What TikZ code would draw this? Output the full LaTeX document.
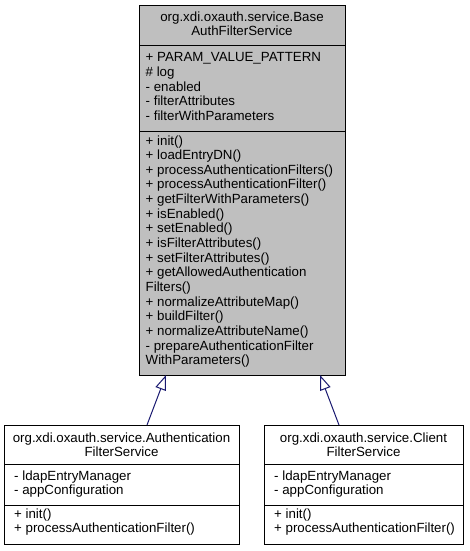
\documentclass[tikz,border=0pt]{standalone}
\usepackage{fontspec}
\setmainfont{Liberation Sans}
\usetikzlibrary{arrows.meta}
\definecolor{boxgray}{RGB}{191,191,191}
\definecolor{edgeblue}{RGB}{25,25,112}
\begin{document}
\begin{tikzpicture}[x=1pt,y=-1pt,
  umlbox/.style={draw=black,line width=1pt,inner sep=0pt,anchor=north west},
  divider/.style={draw=black,line width=1pt},
  txt/.style={inner sep=0pt,anchor=base west,font=\fontsize{13.3}{14.5}\selectfont},
  ttl/.style={inner sep=0pt,anchor=base,font=\fontsize{13.3}{14.5}\selectfont},
  inherit/.style={draw=edgeblue,line width=1pt,-{Triangle[open,length=15pt,width=11pt,fill=white]}}]
\useasboundingbox (0,0) rectangle (469,551);
% ---------- base class ----------
\node[umlbox,fill=boxgray,minimum width=206pt,minimum height=370pt] (base) at (139,5) {};
\draw[divider] (139,46) -- (345,46);
\draw[divider] (139,131) -- (345,131);
\node[ttl] (bt1) at (242,22) {org.xdi.oxauth.service.Base};
\node[ttl] (bt2) at (242,36) {AuthFilterService};
\foreach \t [count=\i from 0] in {+ PARAM\_VALUE\_PATTERN,\# log,- enabled,- filterAttributes,- filterWithParameters}
  \node[txt] (ba\i) at (145.5,62+14.5*\i) {\t};
\foreach \t [count=\i from 0] in {+ init(),+ loadEntryDN(),+ processAuthenticationFilters(),+ processAuthenticationFilter(),+ getFilterWithParameters(),+ isEnabled(),+ setEnabled(),+ isFilterAttributes(),+ setFilterAttributes(),+ getAllowedAuthentication,Filters(),+ normalizeAttributeMap(),+ buildFilter(),+ normalizeAttributeName(),- prepareAuthenticationFilter,WithParameters()}
  \node[txt] (bm\i) at (145.5,145+14.65*\i) {\t};
% ---------- AuthenticationFilterService ----------
\node[umlbox,fill=white,minimum width=235pt,minimum height=119pt] (auth) at (4,425) {};
\draw[divider] (4,464) -- (239,464);
\draw[divider] (4,505) -- (239,505);
\node[ttl] (at1) at (121.5,442) {org.xdi.oxauth.service.Authentication};
\node[ttl] (at2) at (121.5,456) {FilterService};
\node[txt] (aa0) at (14,480) {- ldapEntryManager};
\node[txt] (aa1) at (14,494) {- appConfiguration};
\node[txt] (am0) at (14,518) {+ init()};
\node[txt] (am1) at (14,532) {+ processAuthenticationFilter()};
% ---------- ClientFilterService ----------
\node[umlbox,fill=white,minimum width=199pt,minimum height=119pt] (client) at (264,425) {};
\draw[divider] (264,464) -- (463,464);
\draw[divider] (264,505) -- (463,505);
\node[ttl] (ct1) at (363.5,442) {org.xdi.oxauth.service.Client};
\node[ttl] (ct2) at (363.5,456) {FilterService};
\node[txt] (ca0) at (274,480) {- ldapEntryManager};
\node[txt] (ca1) at (274,494) {- appConfiguration};
\node[txt] (cm0) at (274,518) {+ init()};
\node[txt] (cm1) at (274,532) {+ processAuthenticationFilter()};
% ---------- inheritance ----------
\coordinate (authTop) at (147,425);
\coordinate (baseTipA) at (166,375);
\coordinate (clientTop) at (339,425);
\coordinate (baseTipC) at (320,375);
\draw[inherit] (authTop) -- (baseTipA);
\draw[inherit] (clientTop) -- (baseTipC);
\end{tikzpicture}
\end{document}
